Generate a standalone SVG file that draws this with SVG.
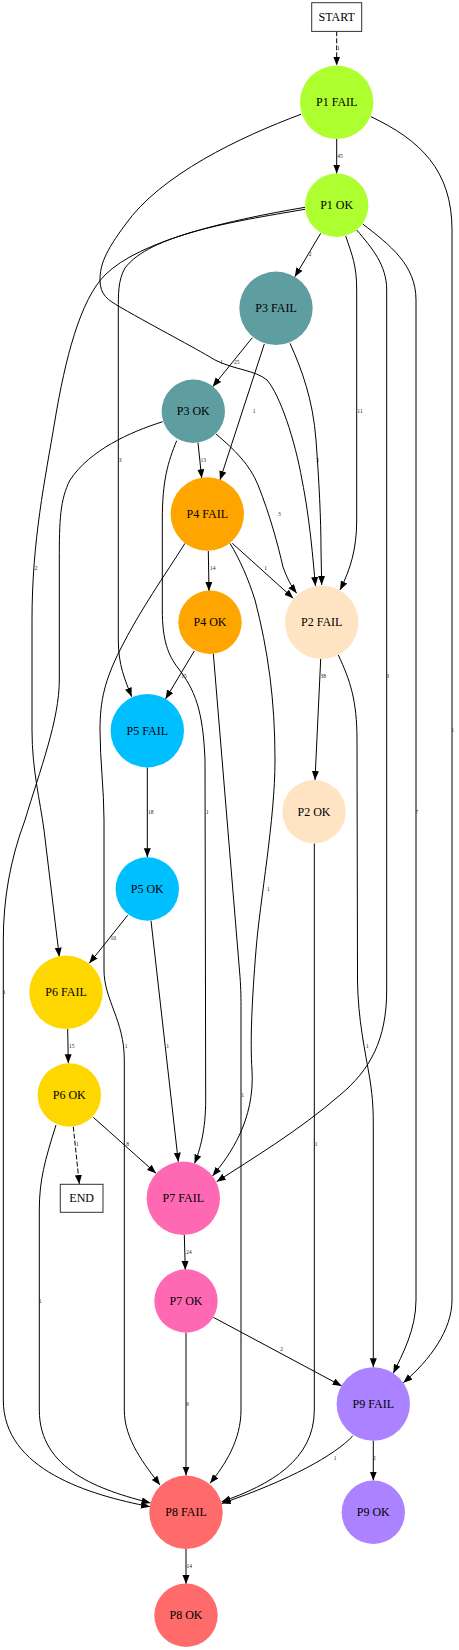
<svg xmlns="http://www.w3.org/2000/svg" width="459" height="1650" viewBox="0 0 459 1650">
<style>
.e{fill:none;stroke:#000;stroke-width:1;marker-end:url(#ah)}
.d{stroke-dasharray:5,2}
.el{font-family:"Liberation Serif","Times New Roman",serif;font-size:5.5px;fill:#222;text-anchor:middle}
.nl{font-family:"Liberation Serif","Times New Roman",serif;font-size:12px;fill:#000;text-anchor:middle}
.box{fill:#fff;stroke:#333;stroke-width:1}
.p1{fill:#adff2f}.p2{fill:#ffe4c4}.p3{fill:#5f9ea0}.p4{fill:#ffa500}.p5{fill:#00bfff}
.p6{fill:#ffd700}.p7{fill:#ff69b4}.p8{fill:#ff6a6a}.p9{fill:#ab82ff}
</style>
<defs>
<marker id="ah" markerUnits="userSpaceOnUse" markerWidth="10" markerHeight="8" refX="9" refY="3.5" orient="auto">
<path d="M0,0 L9,3.5 L0,7 z" fill="#000"/>
</marker>
</defs>
<rect width="459" height="1650" fill="#fff"/>
<g id="edges">
<path class="e d" d="M336.7,31.3 L336.7,65.6"/><text class="el" x="338.3" y="50">1</text>
<path class="e" d="M336.7,139 L336.7,173.6"/><text class="el" x="340" y="157.5">45</text>
<path class="e" d="M301,114.3 C240,137 160,175 125,225 C105,252 100,265 100,280 C100,295 108,300 120,307 C160,330 190,345 215,360 C235,370 255,370 267,380 C280,395 295,440 302,480 C310,520 313,560 315.5,586"/><text class="el" x="221.7" y="363.5">1</text>
<path class="e" d="M371,116.7 C420,140 452,170 452,230 L452,1300 C452,1330 430,1360 403.3,1382.7"/><text class="el" x="452.7" y="732">1</text>
<path class="e" d="M320.7,233.3 L294.8,276.8"/><text class="el" x="310" y="256">2</text>
<path class="e" d="M305,209.3 C230,222 150,235 125,268 C118,280 118.3,295 118.3,310 L118.3,640 C118.3,665 125,680 131.7,696.7"/><text class="el" x="120" y="462">3</text>
<path class="e" d="M305,207.3 C230,220 140,240 105,275 C80,300 65,360 55,420 C45,480 32,540 32,620 L32,730 C32,770 40,800 44,830 L59.3,956.7"/><text class="el" x="36" y="569.5">2</text>
<path class="e" d="M345.7,236 C352,255 356.7,265 356.7,290 L356.7,520 C356.7,550 350,570 340,590"/><text class="el" x="360" y="413">11</text>
<path class="e" d="M356.7,230 C372,248 386.7,265 386.7,290 L386.7,990 C386.7,1040 370,1070 340,1095 C300,1130 250,1160 216.7,1181.7"/><text class="el" x="387.7" y="678">3</text>
<path class="e" d="M362.7,224 C390,245 416,265 416,300 L416,1300 C416,1330 402,1355 393.3,1373.3"/><text class="el" x="416.7" y="813.5">7</text>
<path class="e" d="M252.3,337.7 L212.7,386.7"/><text class="el" x="236.7" y="363.5">25</text>
<path class="e" d="M264.3,344 L220,480"/><text class="el" x="254" y="413">1</text>
<path class="e" d="M290,343.3 C302,370 313,400 316,440 C319,480 321,520 321,550 L321.7,585"/><text class="el" x="317.3" y="462">3</text>
<path class="e" d="M198,442.7 L201.7,478.3"/><text class="el" x="203.3" y="462">13</text>
<path class="e" d="M216,434 C235,450 250,465 258,485 C270,515 278,545 283,567 C287,578 291,586 296.7,593.3"/><text class="el" x="279.3" y="516">3</text>
<path class="e" d="M176.7,440.7 C168,462 162.3,480 162.3,520 L162.3,610 C162.3,640 168,655 178,668 C195,690 203,710 205,760 L205.7,1100 C205.7,1130 200,1150 194.5,1163.5"/><text class="el" x="207.3" y="813.5">1</text>
<path class="e" d="M162.7,421.7 C130,432 90,450 70,480 C60,500 59.3,520 59.3,560 L59.3,680 C59.3,720 40,770 25,820 C10,860 3.3,900 3.3,940 L3.3,1400 C3.3,1470 90,1495 150,1506.7"/><text class="el" x="4" y="994">1</text>
<path class="e" d="M208.3,551 L209,591"/><text class="el" x="212.7" y="569.5">14</text>
<path class="e" d="M232.3,543.3 L293.3,598.3"/><text class="el" x="265.7" y="569.5">1</text>
<path class="e" d="M185,543.3 C165,575 140,610 120,650 C105,680 100,700 100,730 C100,760 104,790 104,820 L104,970 C104,1000 124.3,1020 124.3,1060 L124.3,1410 C124.3,1440 145,1465 160,1485"/><text class="el" x="126" y="1048">1</text>
<path class="e" d="M230,543.3 C240,560 248,578 255,600 C268,650 275,700 275,760 C275,820 260,900 256,950 C252,1000 250,1040 252,1070 C255,1120 230,1155 212.5,1176"/><text class="el" x="268.3" y="891">1</text>
<path class="e" d="M194.3,651 L165.5,699"/><text class="el" x="184" y="678">15</text>
<path class="e" d="M213.3,653.3 L240,976.7 C241,990 241,1000 241,1010 L241,1410 C241,1440 225,1465 210,1483.3"/><text class="el" x="242.7" y="1097">1</text>
<path class="e" d="M320.7,659 L315,780"/><text class="el" x="323.3" y="678">38</text>
<path class="e" d="M338.3,655 C350,680 357,700 357,740 L357.5,980 C358,1020 365,1050 370,1080 C373,1100 373.3,1110 373.3,1130 L373.3,1367.3"/><text class="el" x="367.3" y="1048">1</text>
<path class="e" d="M314.3,843.3 L314.3,1410 C314.3,1460 270,1485 221.7,1501.7"/><text class="el" x="316" y="1146">1</text>
<path class="e" d="M147.3,767.4 L147.3,857.3"/><text class="el" x="150.7" y="813.5">18</text>
<path class="e" d="M127.7,915.3 L89.3,963.3"/><text class="el" x="113.3" y="940">10</text>
<path class="e" d="M151,920.7 L178.3,1161.7"/><text class="el" x="167.7" y="1048">1</text>
<path class="e" d="M67.7,1029 L68.3,1063.3"/><text class="el" x="71.7" y="1048">15</text>
<path class="e d" d="M73.3,1126.7 L79.3,1184"/><text class="el" x="77.3" y="1146">1</text>
<path class="e" d="M93.3,1117.3 L156,1173.3"/><text class="el" x="127.7" y="1146">8</text>
<path class="e" d="M56,1125 C45,1160 39.3,1180 39.3,1210 L39.3,1410 C39.3,1470 100,1490 150.5,1503"/><text class="el" x="40" y="1303">1</text>
<path class="e" d="M184.3,1235 L185.3,1270"/><text class="el" x="189" y="1254">24</text>
<path class="e" d="M213.3,1317.3 L341.7,1386"/><text class="el" x="281.7" y="1351">2</text>
<path class="e" d="M186,1332.7 L186,1475.6"/><text class="el" x="187.3" y="1406">9</text>
<path class="e" d="M186,1549 L186,1584"/><text class="el" x="189.3" y="1568">14</text>
<path class="e" d="M352.7,1436 C335,1455 290,1480 221.5,1503.5"/><text class="el" x="335" y="1460">1</text>
<path class="e" d="M373.3,1440.7 L373.3,1480.6"/><text class="el" x="374.3" y="1459.5">2</text>
</g>
<g id="START"><rect class="box" x="311.7" y="2.7" width="50" height="28.7"/><text class="nl" x="336.7" y="21">START</text></g>
<g id="P1_FAIL"><circle class="p1" cx="336.7" cy="102.3" r="36.7"/><text class="nl" x="336.7" y="106.3">P1 FAIL</text></g>
<g id="P1_OK"><circle class="p1" cx="336.7" cy="205.3" r="31.7"/><text class="nl" x="336.7" y="209.3">P1 OK</text></g>
<g id="P3_FAIL"><circle class="p3" cx="276" cy="308.3" r="36.7"/><text class="nl" x="276" y="312.3">P3 FAIL</text></g>
<g id="P3_OK"><circle class="p3" cx="193.3" cy="411.3" r="31.7"/><text class="nl" x="193.3" y="415.3">P3 OK</text></g>
<g id="P4_FAIL"><circle class="p4" cx="207.3" cy="514" r="36.7"/><text class="nl" x="207.3" y="518">P4 FAIL</text></g>
<g id="P4_OK"><circle class="p4" cx="210" cy="622.3" r="31.7"/><text class="nl" x="210" y="626.3">P4 OK</text></g>
<g id="P2_FAIL"><circle class="p2" cx="321.7" cy="622.3" r="36.7"/><text class="nl" x="321.7" y="626.3">P2 FAIL</text></g>
<g id="P5_FAIL"><circle class="p5" cx="147.3" cy="730.7" r="36.7"/><text class="nl" x="147.3" y="734.7">P5 FAIL</text></g>
<g id="P2_OK"><circle class="p2" cx="314" cy="811.7" r="31.7"/><text class="nl" x="314" y="815.7">P2 OK</text></g>
<g id="P5_OK"><circle class="p5" cx="147.3" cy="889" r="31.7"/><text class="nl" x="147.3" y="893">P5 OK</text></g>
<g id="P6_FAIL"><circle class="p6" cx="66" cy="992.3" r="36.7"/><text class="nl" x="66" y="996.3">P6 FAIL</text></g>
<g id="P6_OK"><circle class="p6" cx="69.3" cy="1095" r="31.7"/><text class="nl" x="69.3" y="1099">P6 OK</text></g>
<g id="END"><rect class="box" x="60.3" y="1184.3" width="42.7" height="28"/><text class="nl" x="81.7" y="1202.3">END</text></g>
<g id="P7_FAIL"><circle class="p7" cx="183.3" cy="1198.3" r="36.7"/><text class="nl" x="183.3" y="1202.3">P7 FAIL</text></g>
<g id="P7_OK"><circle class="p7" cx="186" cy="1301" r="31.7"/><text class="nl" x="186" y="1305">P7 OK</text></g>
<g id="P9_FAIL"><circle class="p9" cx="373.3" cy="1404" r="36.7"/><text class="nl" x="373.3" y="1408">P9 FAIL</text></g>
<g id="P8_FAIL"><circle class="p8" cx="186" cy="1512.3" r="36.7"/><text class="nl" x="186" y="1516.3">P8 FAIL</text></g>
<g id="P9_OK"><circle class="p9" cx="373.3" cy="1512.3" r="31.7"/><text class="nl" x="373.3" y="1516.3">P9 OK</text></g>
<g id="P8_OK"><circle class="p8" cx="186" cy="1615.3" r="31.7"/><text class="nl" x="186" y="1619.3">P8 OK</text></g>
</svg>
